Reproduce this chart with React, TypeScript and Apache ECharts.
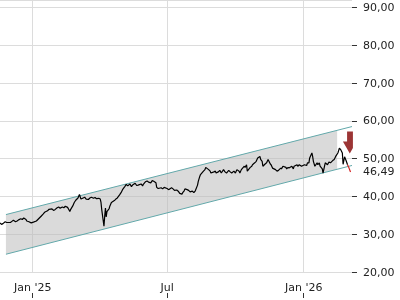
import React, { useEffect, useRef } from 'react';
import * as echarts from 'echarts';

const FONT = 'DejaVu Sans';

// price series (daily-ish closes)
const priceDates = [
  '2024-11-18','2024-11-20','2024-11-22','2024-11-25','2024-11-27','2024-12-02','2024-12-04','2024-12-06','2024-12-09','2024-12-11',
  '2024-12-13','2024-12-16','2024-12-18','2024-12-20','2024-12-23','2024-12-24','2024-12-27','2024-12-30','2025-01-02','2025-01-06',
  '2025-01-08','2025-01-10','2025-01-13','2025-01-15','2025-01-17','2025-01-21','2025-01-23','2025-01-27','2025-01-29','2025-01-31',
  '2025-02-03','2025-02-05','2025-02-07','2025-02-10','2025-02-12','2025-02-14','2025-02-17','2025-02-19','2025-02-20','2025-02-21',
  '2025-02-24','2025-02-26','2025-02-28','2025-03-03','2025-03-05','2025-03-07','2025-03-10','2025-03-12','2025-03-14','2025-03-17',
  '2025-03-19','2025-03-21','2025-03-24','2025-03-26','2025-03-28','2025-03-31','2025-04-02','2025-04-03','2025-04-04','2025-04-07',
  '2025-04-08','2025-04-09','2025-04-10','2025-04-11','2025-04-14','2025-04-15','2025-04-17','2025-04-21','2025-04-23','2025-04-25',
  '2025-04-28','2025-04-30','2025-05-02','2025-05-05','2025-05-07','2025-05-09','2025-05-12','2025-05-14','2025-05-16','2025-05-19',
  '2025-05-21','2025-05-23','2025-05-27','2025-05-29','2025-05-30','2025-06-02','2025-06-04','2025-06-06','2025-06-09','2025-06-11',
  '2025-06-13','2025-06-16','2025-06-17','2025-06-19','2025-06-23','2025-06-25','2025-06-27','2025-07-01','2025-07-03','2025-07-07',
  '2025-07-09','2025-07-11','2025-07-14','2025-07-16','2025-07-18','2025-07-21','2025-07-22','2025-07-24','2025-07-25','2025-07-28',
  '2025-07-30','2025-08-01','2025-08-04','2025-08-06','2025-08-08','2025-08-11','2025-08-12','2025-08-14','2025-08-15','2025-08-19',
  '2025-08-21','2025-08-22','2025-08-26','2025-08-28','2025-08-29','2025-09-02','2025-09-04','2025-09-05','2025-09-08','2025-09-10',
  '2025-09-12','2025-09-15','2025-09-17','2025-09-19','2025-09-22','2025-09-24','2025-09-26','2025-09-29','2025-10-01','2025-10-03',
  '2025-10-06','2025-10-07','2025-10-09','2025-10-13','2025-10-14','2025-10-16','2025-10-17','2025-10-21','2025-10-23','2025-10-24',
  '2025-10-27','2025-10-29','2025-10-31','2025-11-03','2025-11-04','2025-11-06','2025-11-07','2025-11-10','2025-11-12','2025-11-14',
  '2025-11-17','2025-11-18','2025-11-20','2025-11-24','2025-11-26','2025-11-28','2025-12-01','2025-12-02','2025-12-04','2025-12-08',
  '2025-12-09','2025-12-11','2025-12-12','2025-12-16','2025-12-18','2025-12-19','2025-12-23','2025-12-24','2025-12-26','2025-12-29',
  '2026-01-02','2026-01-05','2026-01-06','2026-01-08','2026-01-09','2026-01-12','2026-01-13','2026-01-14','2026-01-16','2026-01-19',
  '2026-01-20','2026-01-22','2026-01-23','2026-01-26','2026-01-27','2026-01-29','2026-01-30','2026-02-02','2026-02-04','2026-02-06',
  '2026-02-09','2026-02-11','2026-02-13','2026-02-16','2026-02-18','2026-02-20','2026-02-22','2026-02-23','2026-02-25','2026-02-27',
  '2026-03-01',
];
const priceValues = [
  33.0,32.6,32.8,33.3,33.1,33.1,33.4,33.7,33.3,33.5,
  33.8,34.1,33.9,34.3,33.9,33.5,33.3,33.0,33.2,33.5,
  33.9,34.3,34.9,35.3,35.8,36.2,36.6,36.7,36.3,36.5,
  37.0,37.2,36.9,37.2,37.0,37.4,37.1,36.4,36.0,36.5,
  37.5,38.4,39.0,39.6,40.5,39.3,39.6,39.8,39.3,39.2,
  39.6,39.8,39.5,39.7,39.4,39.5,39.3,38.4,36.5,32.1,
  34.8,36.9,34.6,36.0,36.8,37.5,38.4,38.9,39.3,39.6,
  40.4,41.0,41.8,42.6,43.2,42.8,43.3,42.6,43.1,43.5,
  42.9,43.0,43.3,42.8,43.2,43.9,44.1,43.8,43.6,44.2,
  44.0,43.6,42.4,42.1,42.3,42.0,42.4,42.1,41.8,42.3,
  42.0,41.6,41.7,41.4,40.8,40.6,41.0,41.5,42.0,41.8,
  41.6,41.2,41.4,41.0,41.5,43.0,44.0,45.3,45.8,46.7,
  47.1,47.7,47.1,46.7,46.2,46.5,46.7,46.2,46.5,46.9,
  46.2,47.1,46.5,46.2,46.9,46.5,46.2,46.7,46.2,47.1,
  46.7,46.2,47.1,48.0,47.7,48.4,46.7,47.7,48.0,48.4,
  48.9,49.3,50.2,50.6,49.8,49.3,48.0,48.6,48.9,49.8,
  48.6,48.4,47.5,47.1,46.7,46.9,47.5,47.3,48.0,47.7,
  47.3,47.7,47.5,48.0,47.3,48.0,48.4,48.0,48.4,48.0,
  48.4,48.2,48.9,48.9,50.2,51.5,50.6,49.3,48.0,48.9,
  48.4,48.9,48.0,47.3,46.2,48.0,48.9,48.4,49.1,48.9,
  49.5,49.8,50.6,51.5,52.8,52.3,51.5,48.5,50.5,49.5,
  48.4,
];

// last move, drawn in red
const tailDates = ['2026-03-01', '2026-03-03', '2026-03-05'];
const tailValues = [48.4, 47.5, 46.49];
const lastPrice = 46.49;

// trend channel
const channelDates = ['2024-11-26', '2026-03-07'];
const channelUpper = [35.2, 58.5];
const channelLower = [24.7, 48.2];
const fillDates = ['2024-11-26', '2026-02-15'];
const fillUpper = [35.2, 57.5];
const fillLower = [24.7, 47.2];

// signal arrow
const arrowDate = '2026-03-01T12:00:00';
const arrowValue = 54.3;

// axes
const xMin = '2024-11-18';
const xMax = '2026-03-07';
const xTickDates = ['2025-01-01', '2025-07-01', '2026-01-01'];
const xTickLabels = ["Jan '25", 'Jul', "Jan '26"];
const yMin = 20;
const yMax = 92;
const yInterval = 10;

const ts = (s: string) => new Date(s.length === 10 ? s + 'T00:00:00' : s).getTime();
const fmt = (v: number) => v.toFixed(2).replace('.', ',');

export default function App() {
  const ref = useRef<HTMLDivElement>(null);

  useEffect(() => {
    if (!ref.current) return;
    const chart = echarts.init(ref.current, undefined, { renderer: 'svg' });
    const xTickTs = xTickDates.map(ts);
    const teal = '#62a8aa';

    const fillRow = [
      ts(fillDates[0]), fillLower[0], fillUpper[0],
      ts(fillDates[1]), fillLower[1], fillUpper[1],
    ];

    chart.setOption({
      animation: false,
      grid: { left: 0, right: 48, top: -3, bottom: 28, containLabel: false },
      xAxis: [
        {
          type: 'value',
          position: 'bottom',
          min: ts(xMin),
          max: ts(xMax),
          axisLine: { show: false },
          axisTick: { show: false, customValues: xTickTs },
          axisLabel: {
            customValues: xTickTs,
            margin: 10,
            fontSize: 11,
            fontFamily: FONT,
            color: '#222',
            formatter: (v: number) => {
              const i = xTickTs.indexOf(v);
              return i >= 0 ? xTickLabels[i] : '';
            },
          },
          splitLine: { show: true, lineStyle: { color: '#dcdcdc', width: 1 } },
        },
        {
          type: 'value',
          position: 'bottom',
          offset: 21,
          min: ts(xMin),
          max: ts(xMax),
          axisLine: { show: false },
          axisLabel: { show: false, customValues: xTickTs },
          splitLine: { show: false },
          axisTick: { show: true, length: 5, customValues: xTickTs, lineStyle: { color: '#333' } },
        },
      ],
      yAxis: [
        {
          type: 'value',
          position: 'right',
          min: yMin,
          max: yMax,
          interval: yInterval,
          axisLine: { show: false },
          axisTick: { show: true, length: 5, lineStyle: { color: '#333' } },
          axisLabel: {
            margin: 11,
            fontSize: 11,
            fontFamily: FONT,
            color: '#222',
            showMaxLabel: false,
            formatter: (v: number) => (v % yInterval === 0 ? fmt(v) : ''),
          },
          splitLine: { show: true, lineStyle: { color: '#dcdcdc', width: 1 } },
        },
        {
          type: 'value',
          position: 'right',
          offset: 0,
          min: yMin,
          max: yMax,
          axisLine: { show: false },
          axisTick: { show: false, customValues: [lastPrice] },
          splitLine: { show: false },
          axisLabel: {
            customValues: [lastPrice],
            margin: 11,
            fontSize: 11,
            fontFamily: FONT,
            color: '#222',
            formatter: (v: number) => fmt(v),
          },
        },
      ],
      series: [
        {
          type: 'custom',
          silent: true,
          encode: { x: [0, 3], y: [1, 2, 4, 5] },
          data: [fillRow],
          renderItem: (_params: any, api: any) => {
            const a = api.coord([api.value(0), api.value(1)]);
            const b = api.coord([api.value(0), api.value(2)]);
            const c = api.coord([api.value(3), api.value(5)]);
            const d = api.coord([api.value(3), api.value(4)]);
            return {
              type: 'polygon',
              shape: { points: [a, b, c, d] },
              style: { fill: 'rgba(188,188,188,0.55)', stroke: 'none' },
            };
          },
        },
        {
          type: 'line',
          silent: true,
          symbol: 'none',
          lineStyle: { color: teal, width: 1 },
          data: channelDates.map((d, i) => [ts(d), channelUpper[i]]),
        },
        {
          type: 'line',
          silent: true,
          symbol: 'none',
          lineStyle: { color: teal, width: 1 },
          data: channelDates.map((d, i) => [ts(d), channelLower[i]]),
        },
        {
          type: 'line',
          silent: true,
          symbol: 'none',
          lineStyle: { color: '#000', width: 1.2 },
          data: priceDates.map((d, i) => [ts(d), priceValues[i]]),
          markPoint: {
            silent: true,
            symbol: 'path://M4,0L9.6,0L9.6,16.5L6.6,22L0,10L4,10Z',
            symbolSize: [10, 22],
            itemStyle: { color: '#9c3535' },
            label: { show: false },
            data: [{ coord: [ts(arrowDate), arrowValue] }],
          },
        },
        {
          type: 'line',
          silent: true,
          symbol: 'none',
          lineStyle: { color: '#d42020', width: 1.2 },
          data: tailDates.map((d, i) => [ts(d), tailValues[i]]),
        },
      ],
    });

    return () => chart.dispose();
  }, []);

  return <div ref={ref} style={{ position: 'fixed', left: 0, top: 0, width: 400, height: 300 }} />;
}
